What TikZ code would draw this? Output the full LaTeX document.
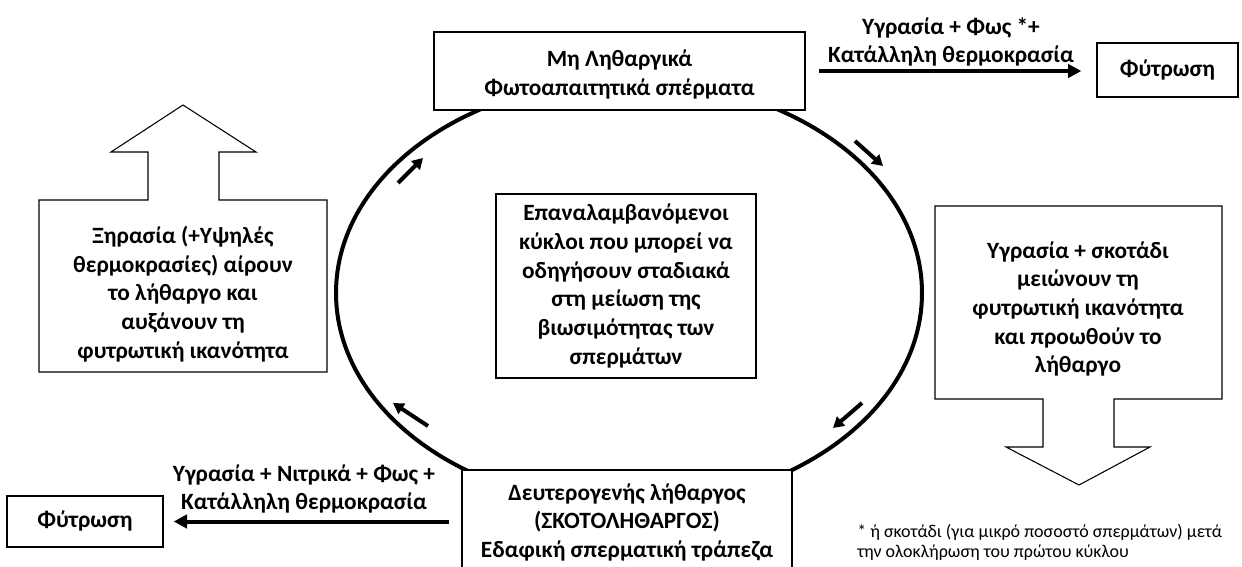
\documentclass[tikz,border=0pt]{standalone}
\usepackage{fontspec}
\setmainfont{Carlito}
\usetikzlibrary{arrows.meta}
\begin{document}
\begin{tikzpicture}[x=0.75pt,y=-0.75pt,
  box/.style={draw, line width=1pt, fill=white, inner sep=0pt, align=center,
    font=\bfseries\fontsize{17.5}{21.5}\selectfont},
  txt/.style={font=\bfseries\fontsize{17.5}{21.5}\selectfont, align=center, inner sep=0pt},
  bigarrow/.style={line width=3pt, -{Triangle[length=10pt,width=10pt]}},
  cycarrow/.style={line width=3pt, -{Triangle[length=8pt,width=9pt]}},
  blockarrow/.style={draw, line width=0.8pt, fill=white, line join=miter}]
\useasboundingbox (0,0) rectangle (1242,567);
\fill[white] (0,0) rectangle (1242,567);

% cycle
\draw[line width=3pt] (629,293) ellipse [x radius=293, y radius=213];

% boxes
\node[box, minimum width=278.25pt, minimum height=58.5pt] (top) at (619.5,71) {};
\node[txt] (toptext) at (619.5,74.5) {Μη Ληθαργικά\\Φωτοαπαιτητικά σπέρματα};
\node[box, minimum width=195pt, minimum height=138pt] (mid) at (626,286)
  {Επαναλαμβανόμενοι\\κύκλοι που μπορεί να\\οδηγήσουν σταδιακά\\στη μείωση της\\βιωσιμότητας των\\σπερμάτων};
\node[box, minimum width=247.5pt, minimum height=78.75pt] (bot) at (627,522.5)
  {Δευτερογενής λήθαργος\\(ΣΚΟΤΟΛΗΘΑΡΓΟΣ)\\Εδαφική σπερματική τράπεζα};
\node[box, minimum width=105.75pt, minimum height=40.5pt] (fyt1) at (1167.5,70) {Φύτρωση};
\node[box, minimum width=117pt, minimum height=38.25pt] (fyt2) at (85,521.5) {Φύτρωση};

% block arrows
\path[blockarrow] (39,372) -- (39,200) -- (148,200) -- (148,152) -- (111,152) -- (183,105)
  -- (256,152) -- (219,152) -- (219,200) -- (327,200) -- (327,372) -- cycle;
\node[txt] (dry) at (183,294)
  {Ξηρασία (+Υψηλές\\θερμοκρασίες) αίρουν\\το λήθαργο και\\αυξάνουν τη\\φυτρωτική ικανότητα};
\path[blockarrow] (935,206) -- (1222,206) -- (1222,399) -- (1114,399) -- (1114,447) -- (1150,447)
  -- (1079,485) -- (1006,447) -- (1043,447) -- (1043,399) -- (935,399) -- cycle;
\node[txt] (wet) at (1078,309)
  {Υγρασία + σκοτάδι\\μειώνουν τη\\φυτρωτική ικανότητα\\και προωθούν το\\λήθαργο};

% germination arrows
\draw[bigarrow, shorten <=9.75pt, shorten >=11.25pt] (top.east) -- (top.east -| fyt1.west);
\node[txt] (lab1) at (951,42) {Υγρασία + Φως *+\\Κατάλληλη θερμοκρασία};
\draw[bigarrow, shorten <=9pt, shorten >=7.5pt] (fyt2.east -| bot.west) -- (fyt2.east);
\node[txt] (lab2) at (304,489) {Υγρασία + Νιτρικά + Φως +\\Κατάλληλη θερμοκρασία};

% cycle direction arrows
\coordinate (a1s) at (398,183); \coordinate (a1e) at (423,158);
\coordinate (a2s) at (855,141); \coordinate (a2e) at (883,166);
\coordinate (a3s) at (862,403); \coordinate (a3e) at (833,428);
\coordinate (a4s) at (428,426); \coordinate (a4e) at (393,403);
\draw[cycarrow] (a1s) -- (a1e);
\draw[cycarrow] (a2s) -- (a2e);
\draw[cycarrow] (a3s) -- (a3e);
\draw[cycarrow] (a4s) -- (a4e);

% footnote
\node[font=\fontsize{13.5}{15}\selectfont, align=left, anchor=west, inner sep=0pt] (note) at (857,542.5)
  {* ή σκοτάδι (για μικρό ποσοστό σπερμάτων) μετά\\την ολοκλήρωση του πρώτου κύκλου};
\end{tikzpicture}
\end{document}
